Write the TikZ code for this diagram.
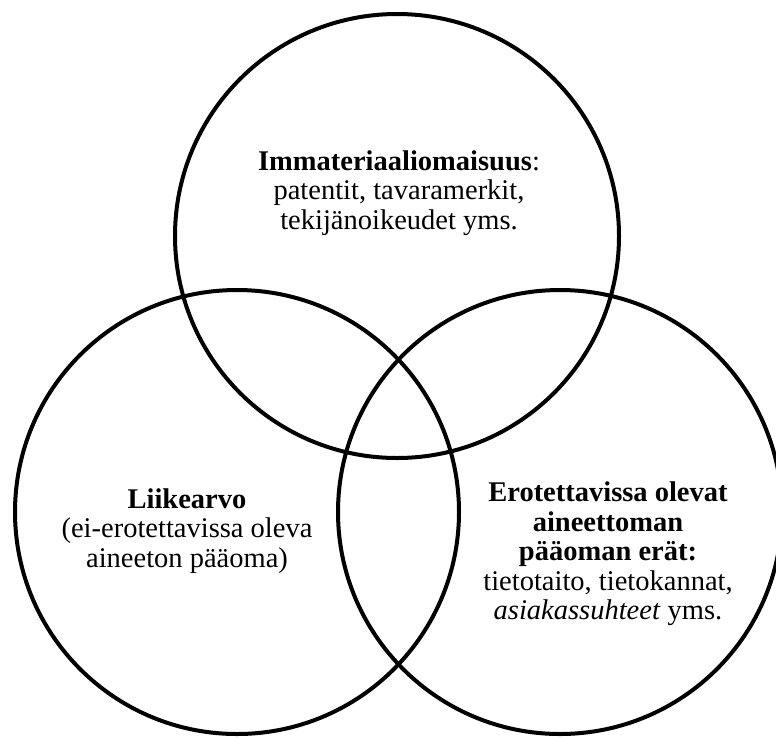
\documentclass[tikz,border=0pt]{standalone}
\usepackage{fontspec}
\setmainfont{Liberation Serif}

\begin{document}
\begin{tikzpicture}[
  x=1pt, y=-1pt,
  set/.style={circle, draw, line width=4pt, minimum size=444pt, inner sep=0pt},
  caption/.style={align=center, inner sep=0pt, font=\fontsize{28.5pt}{29.5pt}\selectfont}
]
\useasboundingbox (0,0) rectangle (776,737);
\clip (0,0) rectangle (776,737);

\node[set] (immat) at (397,236) {};
\node[set] (liike) at (237,512) {};
\node[set] (erot) at (560,512) {};

\node[caption] (immattext) at (399,193)
  {\textbf{Immateriaaliomaisuus}:\\patentit, tavaramerkit,\\tekijänoikeudet yms.};
\node[caption] (liiketext) at (187,531)
  {\textbf{Liikearvo}\\(ei-erotettavissa oleva\\aineeton pääoma)};
\node[caption] (erottext) at (608,554)
  {\textbf{Erotettavissa olevat}\\\textbf{aineettoman}\\\textbf{pääoman erät:}\\tietotaito, tietokannat,\\\textit{asiakassuhteet} yms.};
\end{tikzpicture}
\end{document}
